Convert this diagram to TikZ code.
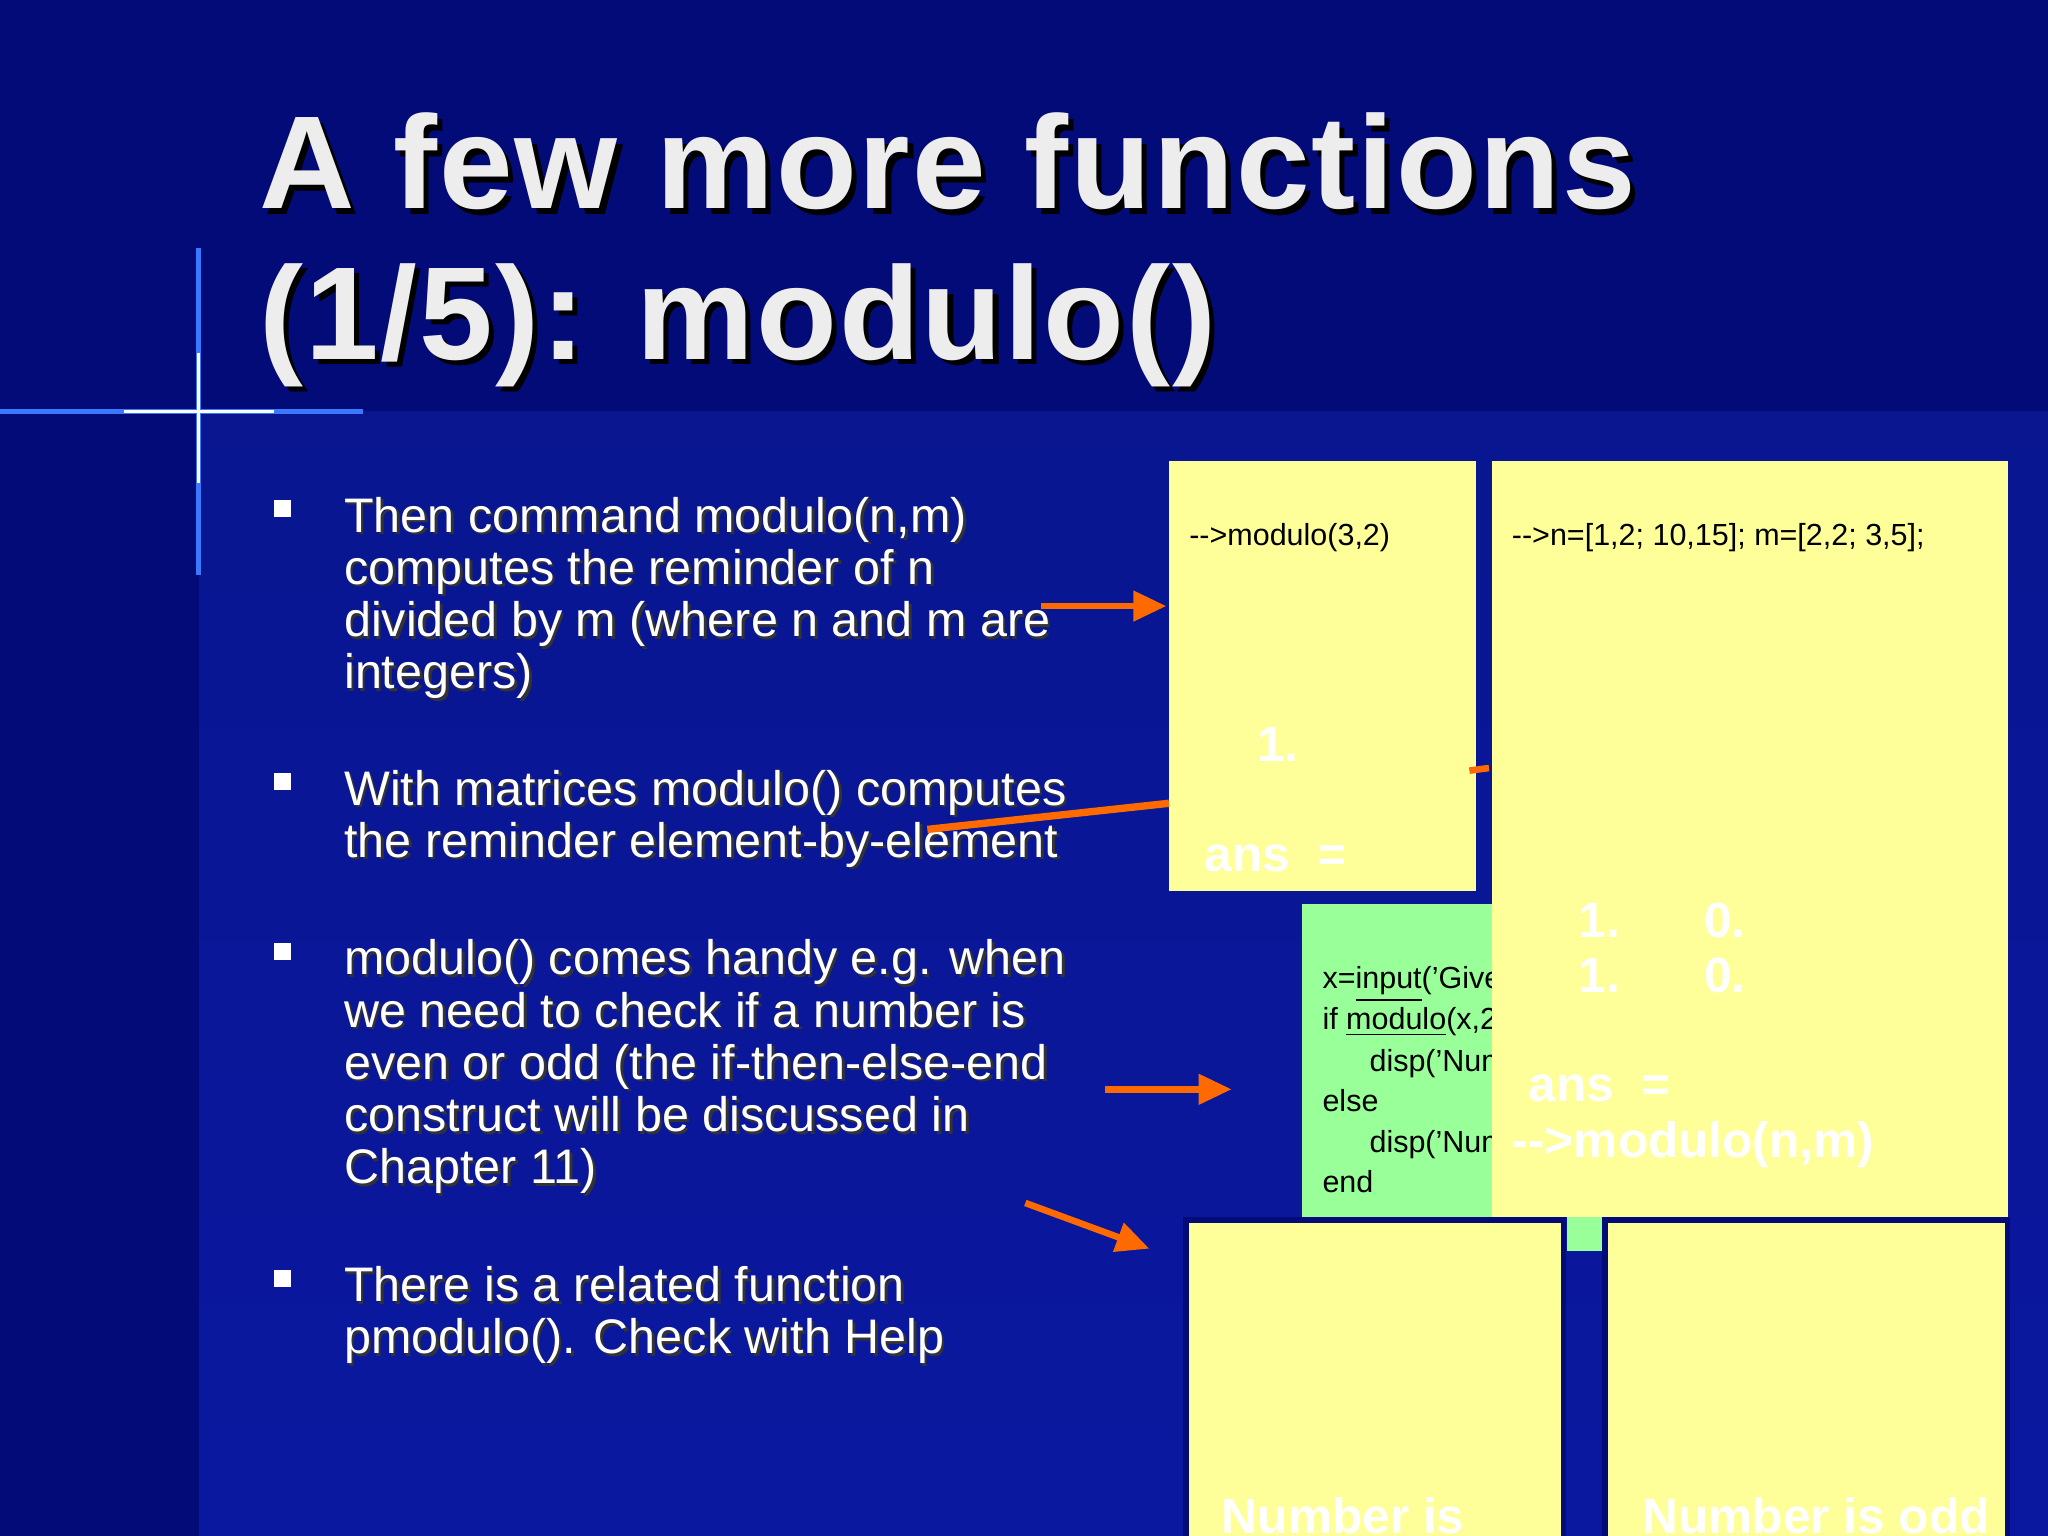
\documentclass[tikz,border=0pt]{standalone}
\usepackage{fontspec}
\setmainfont{Liberation Sans}
\usetikzlibrary{arrows.meta}
\definecolor{bgtop}{HTML}{020B78}
\definecolor{bgbot}{HTML}{0A18A0}
\definecolor{yel}{HTML}{FFFF99}
\definecolor{grn}{HTML}{99FF99}
\definecolor{org}{HTML}{FF6A00}
\definecolor{lblue}{HTML}{3A78FF}
\newcommand{\tfont}{\fontsize{36}{40}\selectfont\bfseries\addfontfeature{LetterSpace=1.5}}
\tikzset{
  title/.style={anchor=base west,inner sep=0pt,text=white!93!black,font=\tfont},
  shadowt/.style={title,text=black},
  bul/.style={anchor=north west,text=white,font=\fontsize{13.2}{14.2}\selectfont,align=left,inner sep=0pt},
  bulsh/.style={bul,text=black!80},
  code/.style={anchor=base west,text=black,font=\fontsize{8.3}{9}\selectfont,inner sep=0pt},
  wcode/.style={anchor=base west,text=white,font=\fontsize{13.5}{14}\selectfont\bfseries,inner sep=0pt},
  arr/.style={org,line width=1.8pt,-{Triangle[length=9pt,width=8pt]}},
  ybox/.style={fill=yel},
}
\begin{document}
\begin{tikzpicture}[x=0.0125cm,y=-0.0125cm]
\useasboundingbox (0,0) rectangle (1568,1176);
\fill[bgtop] (0,0) rectangle (1568,315);
\shade[top color=bgbot!90!black,bottom color=bgbot] (152,315) rectangle (1568,1176);
\fill[bgtop] (0,315) rectangle (152,1176);
\draw[lblue,line width=1.5pt] (0,315) -- (278,315);
\draw[lblue,line width=1.5pt] (152,190) -- (152,440);
\draw[white,line width=1pt] (95,315) -- (210,315);
\draw[white,line width=1pt] (152,270) -- (152,370);
% title
\node[shadowt] at (202,164) {A few more functions};
\node[title] (t1) at (198,160) {A few more functions};
\node[shadowt] at (202,279) {(1/5): modulo()};
\node[title] (t2) at (198,275) {(1/5): modulo()};
% bullets
\foreach \y in {383,592,722,972}{\fill[white] (210,\y) rectangle (223,\y+13);}
\def\pa{Then command modulo(n,m)\\computes the reminder of n\\divided by m (where n and m are\\integers)}
\def\pb{With matrices modulo() computes\\the reminder element-by-element}
\def\pc{modulo() comes handy e.g. when\\we need to check if a number is\\even or odd (the if-then-else-end\\construct will be discussed in\\Chapter 11)}
\def\pd{There is a related function\\pmodulo(). Check with Help}
\node[bulsh] at (265,382) {\pa};
\node[bul] (p1) at (263,380) {\pa};
\node[bulsh] at (265,591) {\pb};
\node[bul] (p2) at (263,589) {\pb};
\node[bulsh] at (265,721) {\pc};
\node[bul] (p3) at (263,719) {\pc};
\node[bulsh] at (265,971) {\pd};
\node[bul] (p4) at (263,969) {\pd};
% green box
\fill[grn] (997,692) rectangle (1142,932);
\fill[grn] (1200,932) rectangle (1227,958);
\node[code] (g1) at (1012,757) {x=\underline{input}('Give};
\node[code] (g2) at (1012,788) {if \underline{modulo}(x,2)};
\node[code] (g3) at (1048,820) {disp('Number};
\node[code] (g4) at (1012,851) {else};
\node[code] (g5) at (1048,882) {disp('Number};
\node[code] (g6) at (1012,913) {end};
% yellow boxes
\fill[ybox] (895,353) rectangle (1130,682);
\node[code] (c1) at (910,418) {{-}{-}>modulo(3,2)};
\node[wcode] (c2) at (962,583) {1.};
\node[wcode] (c3) at (922,667) {ans\ \ =};
\draw[org,line width=1.8pt] (1125,590) -- (1140,588);
\fill[ybox] (1142,353) rectangle (1537,932);
\node[code] (d1) at (1157,418) {{-}{-}>n=[1,2; 10,15]; m=[2,2; 3,5];};
\node[wcode] (d2) at (1208,718) {1.\hspace{1.7em}0.};
\node[wcode] (d3) at (1208,760) {1.\hspace{1.7em}0.};
\node[wcode] (d4) at (1170,843) {ans\ \ =};
\node[wcode] (d5) at (1157,886) {{-}{-}>modulo(n,m)};
\fill[ybox,draw=bgtop,line width=1.5pt] (908,934) rectangle (1197,1190);
\fill[ybox,draw=bgtop,line width=1.5pt] (1229,934) rectangle (1537,1190);
\node[wcode] (e1) at (935,1174) {Number is};
\node[wcode] (e2) at (1257,1174) {Number is odd};
% arrows
\coordinate (a1s) at (797,464); \coordinate (a1e) at (893,464);
\draw[arr] (a1s) -- (a1e);
\coordinate (a2s) at (710,635); \coordinate (a2e) at (895,615);
\draw[org,line width=2pt] (a2s) -- (a2e);
\coordinate (a3s) at (846,834); \coordinate (a3e) at (943,834);
\draw[arr] (a3s) -- (a3e);
\coordinate (a4s) at (785,921); \coordinate (a4e) at (880,956);
\draw[arr] (a4s) -- (a4e);
\end{tikzpicture}
\end{document}
